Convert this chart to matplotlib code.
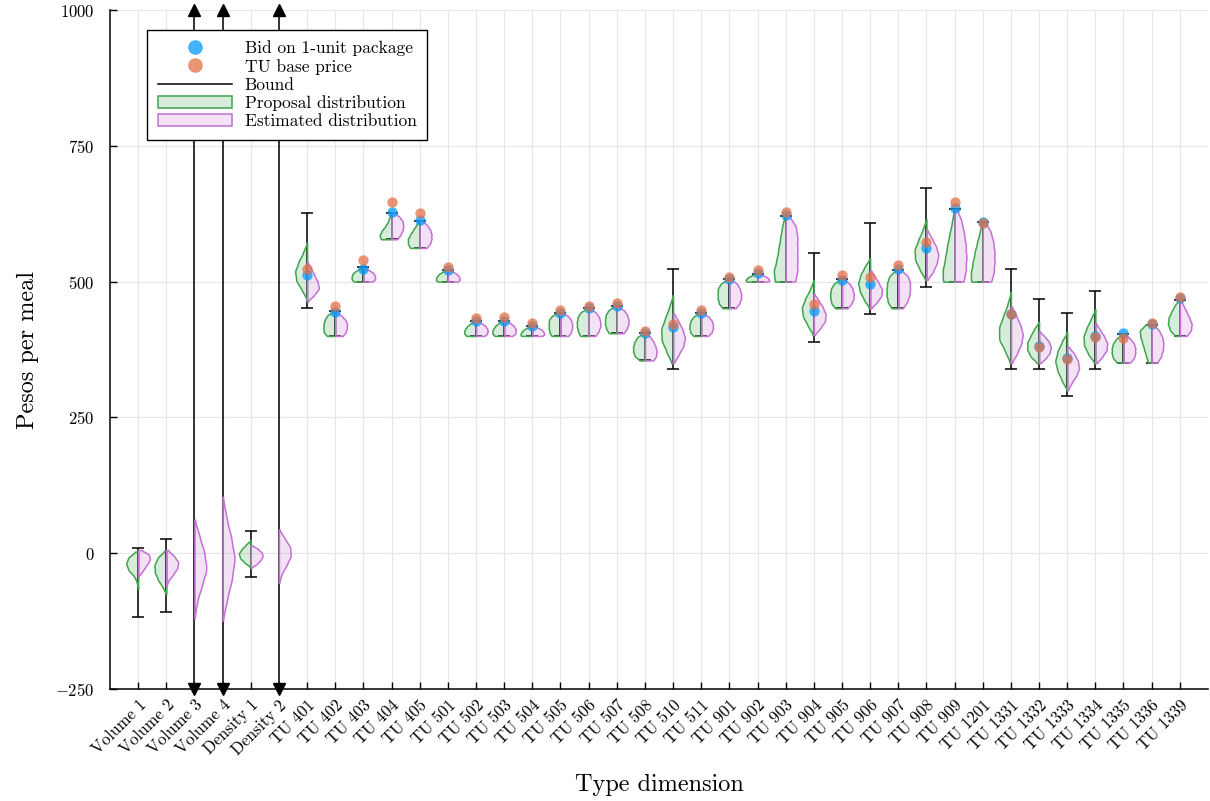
import numpy as np
import matplotlib.pyplot as plt
from matplotlib.colors import to_rgba
from matplotlib.lines import Line2D
from matplotlib.patches import Patch

plt.rcParams['font.family'] = 'serif'
plt.rcParams['font.serif'] = ['cmr10']
plt.rcParams['mathtext.fontset'] = 'cm'
plt.rcParams['axes.formatter.use_mathtext'] = True

names = ['Volume 1', 'Volume 2', 'Volume 3', 'Volume 4', 'Density 1', 'Density 2',
         'TU 401', 'TU 402', 'TU 403', 'TU 404', 'TU 405', 'TU 501', 'TU 502',
         'TU 503', 'TU 504', 'TU 505', 'TU 506', 'TU 507', 'TU 508', 'TU 510',
         'TU 511', 'TU 901', 'TU 902', 'TU 903', 'TU 904', 'TU 905', 'TU 906',
         'TU 907', 'TU 908', 'TU 909', 'TU 1201', 'TU 1331', 'TU 1332', 'TU 1333',
         'TU 1334', 'TU 1335', 'TU 1336', 'TU 1339']

# proposal distribution: support (lo, hi) and relative density at 7 even levels
# None = improper prior, not drawn
prop_range = [(-66, 3), (-76, 5), None, None, (-25, 24), None,
              (466, 572), (400, 445), (500, 526), (578, 627), (562, 612),
              (500, 521), (400, 427), (400, 428), (400, 418), (400, 443),
              (400, 451), (405, 455), (355, 405), (350, 475), (400, 442),
              (451, 504), (500, 514), (500, 621), (402, 503), (451, 504),
              (451, 543), (451, 521), (503, 615), (500, 633), (500, 609),
              (350, 481), (350, 426), (300, 407), (350, 449), (351, 403),
              (351, 421), (400, 467)]
prop_dens = [
    [0.0, 0.1, 0.3, 0.8, 1.0, 0.85, 0.2],
    [0.0, 0.3, 0.7, 0.95, 1.0, 0.75, 0.1],
    None,
    None,
    [0.05, 0.55, 0.9, 1.0, 0.75, 0.4, 0.0],
    None,
    [0.0, 0.4, 0.9, 1.0, 0.7, 0.3, 0.0],
    [0.75, 1.0, 1.0, 1.0, 0.9, 0.7, 0.2],
    [0.85, 1.0, 1.0, 0.95, 0.8, 0.5, 0.1],
    [0.95, 1.0, 0.8, 0.5, 0.3, 0.15, 0.05],
    [0.85, 1.0, 1.0, 0.8, 0.55, 0.3, 0.05],
    [0.95, 1.0, 1.0, 0.9, 0.75, 0.5, 0.15],
    [0.85, 1.0, 1.0, 0.9, 0.75, 0.5, 0.1],
    [0.85, 1.0, 1.0, 0.9, 0.75, 0.5, 0.1],
    [1.0, 1.0, 0.95, 0.85, 0.7, 0.45, 0.1],
    [0.8, 0.95, 1.0, 1.0, 1.0, 0.8, 0.2],
    [0.75, 0.9, 1.0, 1.0, 0.95, 0.75, 0.15],
    [0.7, 0.9, 1.0, 1.0, 0.95, 0.75, 0.2],
    [0.45, 0.9, 1.0, 1.0, 0.9, 0.7, 0.2],
    [0.1, 0.55, 0.95, 1.0, 0.65, 0.3, 0.0],
    [0.7, 0.95, 1.0, 1.0, 0.9, 0.7, 0.2],
    [0.6, 0.9, 1.0, 1.0, 1.0, 0.8, 0.2],
    [0.95, 1.0, 0.95, 0.85, 0.7, 0.45, 0.1],
    [0.95, 1.0, 0.75, 0.6, 0.45, 0.3, 0.08],
    [0.05, 0.5, 0.9, 1.0, 0.7, 0.3, 0.0],
    [0.6, 0.9, 1.0, 1.0, 0.95, 0.75, 0.2],
    [0.05, 0.5, 0.85, 1.0, 0.8, 0.45, 0.0],
    [0.6, 0.9, 1.0, 1.0, 0.95, 0.8, 0.25],
    [0.05, 0.55, 0.95, 1.0, 0.65, 0.3, 0.0],
    [1.0, 0.95, 0.75, 0.6, 0.4, 0.2, 0.05],
    [1.0, 0.95, 0.8, 0.65, 0.45, 0.25, 0.05],
    [0.05, 0.45, 0.95, 0.95, 0.6, 0.25, 0.0],
    [0.15, 0.75, 1.0, 1.0, 0.7, 0.4, 0.0],
    [0.0, 0.45, 0.8, 1.0, 0.8, 0.45, 0.0],
    [0.05, 0.6, 0.95, 1.0, 0.7, 0.35, 0.0],
    [0.6, 0.9, 1.0, 1.0, 0.9, 0.65, 0.15],
    [0.3, 0.45, 0.6, 0.75, 0.9, 1.0, 0.5],
    [0.4, 0.85, 1.0, 0.95, 0.7, 0.45, 0.05],
]

# estimated distribution
est_range = [(-43, 6), (-62, 6), (-120, 62), (-124, 104), (-27, 15), (-55, 44),
             (463, 537), (400, 443), (500, 525), (578, 627), (562, 612),
             (500, 521), (400, 427), (400, 428), (400, 418), (400, 443),
             (400, 451), (405, 455), (355, 405), (350, 442), (400, 442),
             (451, 504), (500, 514), (500, 621), (402, 478), (451, 504),
             (451, 521), (451, 521), (503, 595), (500, 633), (500, 609),
             (350, 454), (350, 408), (300, 380), (350, 423), (351, 403),
             (351, 421), (400, 467)]
est_dens = [
    [0.0, 0.3, 0.55, 0.8, 1.0, 0.9, 0.25],
    [0.0, 0.15, 0.55, 0.9, 1.0, 0.65, 0.1],
    [0.0, 0.2, 0.6, 1.0, 0.8, 0.4, 0.0],
    [0.0, 0.35, 0.75, 1.0, 0.7, 0.3, 0.0],
    [0.0, 0.5, 0.8, 1.0, 0.95, 0.6, 0.05],
    [0.0, 0.2, 0.6, 0.95, 0.9, 0.45, 0.0],
    [0.0, 0.55, 0.95, 0.8, 0.55, 0.3, 0.0],
    [0.65, 0.9, 1.0, 1.0, 0.9, 0.6, 0.15],
    [0.8, 1.0, 1.0, 0.95, 0.8, 0.5, 0.1],
    [0.5, 0.75, 0.95, 1.0, 0.95, 0.7, 0.2],
    [0.6, 0.9, 1.0, 1.0, 0.9, 0.65, 0.2],
    [0.9, 1.0, 1.0, 0.9, 0.75, 0.5, 0.15],
    [0.75, 0.95, 1.0, 0.95, 0.8, 0.55, 0.1],
    [0.75, 0.95, 1.0, 0.95, 0.8, 0.55, 0.1],
    [0.9, 1.0, 1.0, 0.9, 0.75, 0.5, 0.1],
    [0.7, 0.9, 1.0, 1.0, 0.9, 0.7, 0.15],
    [0.6, 0.85, 1.0, 1.0, 0.9, 0.65, 0.1],
    [0.6, 0.85, 1.0, 1.0, 0.9, 0.65, 0.1],
    [0.75, 0.95, 1.0, 0.9, 0.75, 0.5, 0.1],
    [0.05, 0.45, 0.85, 1.0, 0.8, 0.45, 0.05],
    [0.6, 0.9, 1.0, 1.0, 0.9, 0.65, 0.15],
    [0.55, 0.85, 1.0, 1.0, 0.9, 0.7, 0.15],
    [0.95, 1.0, 0.95, 0.85, 0.7, 0.45, 0.1],
    [0.85, 1.0, 1.0, 1.0, 1.0, 0.9, 0.3],
    [0.05, 0.55, 0.95, 1.0, 0.75, 0.4, 0.0],
    [0.5, 0.8, 1.0, 1.0, 0.9, 0.7, 0.15],
    [0.05, 0.6, 0.95, 1.0, 0.7, 0.4, 0.05],
    [0.4, 0.75, 0.95, 1.0, 1.0, 0.85, 0.25],
    [0.05, 0.55, 0.85, 1.0, 0.8, 0.45, 0.05],
    [0.8, 0.95, 1.0, 0.95, 0.8, 0.6, 0.2],
    [0.75, 0.95, 1.0, 1.0, 0.9, 0.7, 0.25],
    [0.05, 0.5, 0.85, 1.0, 0.8, 0.45, 0.05],
    [0.1, 0.6, 0.9, 1.0, 0.85, 0.5, 0.05],
    [0.05, 0.35, 0.75, 1.0, 0.9, 0.6, 0.1],
    [0.1, 0.6, 0.95, 1.0, 0.75, 0.4, 0.05],
    [0.6, 0.9, 1.0, 1.0, 0.9, 0.6, 0.15],
    [0.5, 0.8, 0.95, 1.0, 0.9, 0.65, 0.15],
    [0.6, 0.95, 1.0, 0.8, 0.55, 0.3, 0.05],
]

inf = np.inf
lower = [-118, -109, -inf, -inf, -43, -inf, 452, 400, 500, 578, 562, 500, 400,
         400, 400, 400, 400, 405, 355, 340, 400, 451, 500, 500, 389, 451, 440,
         451, 491, 500, 500, 340, 340, 289, 340, 351, 351, 400]
upper = [10, 27, inf, inf, 41, inf, 626, 445, 526, 627, 612, 521, 427,
         428, 418, 443, 451, 455, 405, 523, 442, 504, 514, 621, 553, 504, 608,
         521, 673, 633, 609, 523, 468, 443, 483, 403, 421, 467]

nan = np.nan
bid = [nan, nan, nan, nan, nan, nan, 512, 444, 524, 628, 613, 521, 427, 428,
       418, 443, 451, 455, 405, 416, 442, 504, 515, 623, 446, 503, 495, 523,
       562, 635, 609, 440, 381, 359, 399, 406, 422, 469]
base = [nan, nan, nan, nan, nan, nan, 524, 455, 540, 647, 627, 526, 433, 435,
        423, 448, 455, 460, 410, 422, 447, 509, 521, 629, 459, 513, 509, 531,
        573, 647, 607, 440, 379, 357, 398, 397, 423, 472]

blue = '#009AFA'
orange = '#E36F47'
green = '#3EA44E'
purple = '#C371D2'

fig = plt.figure(figsize=(12.1, 8.01), dpi=100)
ax = fig.add_axes([0.0909, 0.1398, 0.9074, 0.8477])

x = np.arange(1, len(names) + 1)
ymin, ymax = -250, 1000

# bounds
lo = np.array(lower, dtype=float)
hi = np.array(upper, dtype=float)
fin = np.isfinite(lo) & np.isfinite(hi)
mid = (lo[fin] + hi[fin]) / 2
ax.errorbar(x[fin], mid, yerr=[mid - lo[fin], hi[fin] - mid], fmt='none',
            ecolor='black', elinewidth=1.1, capsize=4.5, capthick=1.1, zorder=2)
for xi in x[~fin]:
    ax.plot([xi, xi], [ymin, ymax], color='black', lw=1.1, zorder=2)
    ax.plot([xi], [ymax], marker='^', color='black', ms=8, clip_on=False, zorder=5)
    ax.plot([xi], [ymin], marker='v', color='black', ms=8, clip_on=False, zorder=5)


def half_violin(rng, dens, pos, side, color):
    a, b = rng
    levels = np.linspace(a, b, len(dens))
    h = 0.5 * (b - a) / (len(dens) - 1)
    coords = np.linspace(a, b, 200)
    vals = (np.array(dens)[None, :] *
            np.exp(-0.5 * ((coords[:, None] - levels[None, :]) / h) ** 2)).sum(axis=1)
    stats = dict(coords=coords, vals=vals, mean=(a + b) / 2, median=(a + b) / 2,
                 min=a, max=b)
    parts = ax.violin([stats], positions=[pos], widths=0.84, showextrema=False,
                      side=side)
    for body in parts['bodies']:
        body.set_alpha(None)
        body.set_facecolor(to_rgba(color, 0.2))
        body.set_edgecolor(color)
        body.set_linewidth(1.1)
        body.set_zorder(3)


for i in range(len(names)):
    if prop_range[i] is not None:
        half_violin(prop_range[i], prop_dens[i], x[i], 'low', green)
    half_violin(est_range[i], est_dens[i], x[i], 'high', purple)

ax.scatter(x, bid, s=55, color=blue, alpha=0.75, linewidths=0, zorder=4)
ax.scatter(x, base, s=55, color=orange, alpha=0.75, linewidths=0, zorder=4)

ax.set_xlim(0, len(names) + 1)
ax.set_ylim(ymin, ymax)
ax.set_yticks([-250, 0, 250, 500, 750, 1000])
ax.set_xticks(x)
ax.set_xticklabels(names, rotation=45, ha='right', va='top',
                   rotation_mode='anchor')
ax.tick_params(direction='in', length=5, width=1, labelsize=12)
ax.tick_params(axis='x', pad=6)
ax.tick_params(axis='y', pad=11)
ax.grid(True, color='#E6E6E6', lw=0.8)
ax.set_axisbelow(True)
for s in ['top', 'right']:
    ax.spines[s].set_visible(False)
for s in ['left', 'bottom']:
    ax.spines[s].set_linewidth(1.1)

ax.set_xlabel('Type dimension', fontsize=17.5, labelpad=12)
ax.set_ylabel('Pesos per meal', fontsize=17.5, labelpad=12)

handles = [
    Line2D([], [], marker='o', ls='none', color=blue, alpha=0.75, ms=10.5, mew=0),
    Line2D([], [], marker='o', ls='none', color=orange, alpha=0.75, ms=10.5, mew=0),
    Line2D([], [], color='black', lw=1.1),
    Patch(facecolor=to_rgba(green, 0.2), edgecolor=green, lw=1.1),
    Patch(facecolor=to_rgba(purple, 0.2), edgecolor=purple, lw=1.1),
]
labels = ['Bid on 1-unit package', 'TU base price', 'Bound',
          'Proposal distribution', 'Estimated distribution']
leg = ax.legend(handles, labels, loc='upper left', bbox_to_anchor=(0.034, 0.971),
                borderaxespad=0, fontsize=12.5, frameon=True, fancybox=False,
                framealpha=1, edgecolor='black', handlelength=4.3,
                labelspacing=0.16, borderpad=0.6, handletextpad=0.7)
leg.get_frame().set_linewidth(1.0)

fig.savefig('out.png', dpi=100)
